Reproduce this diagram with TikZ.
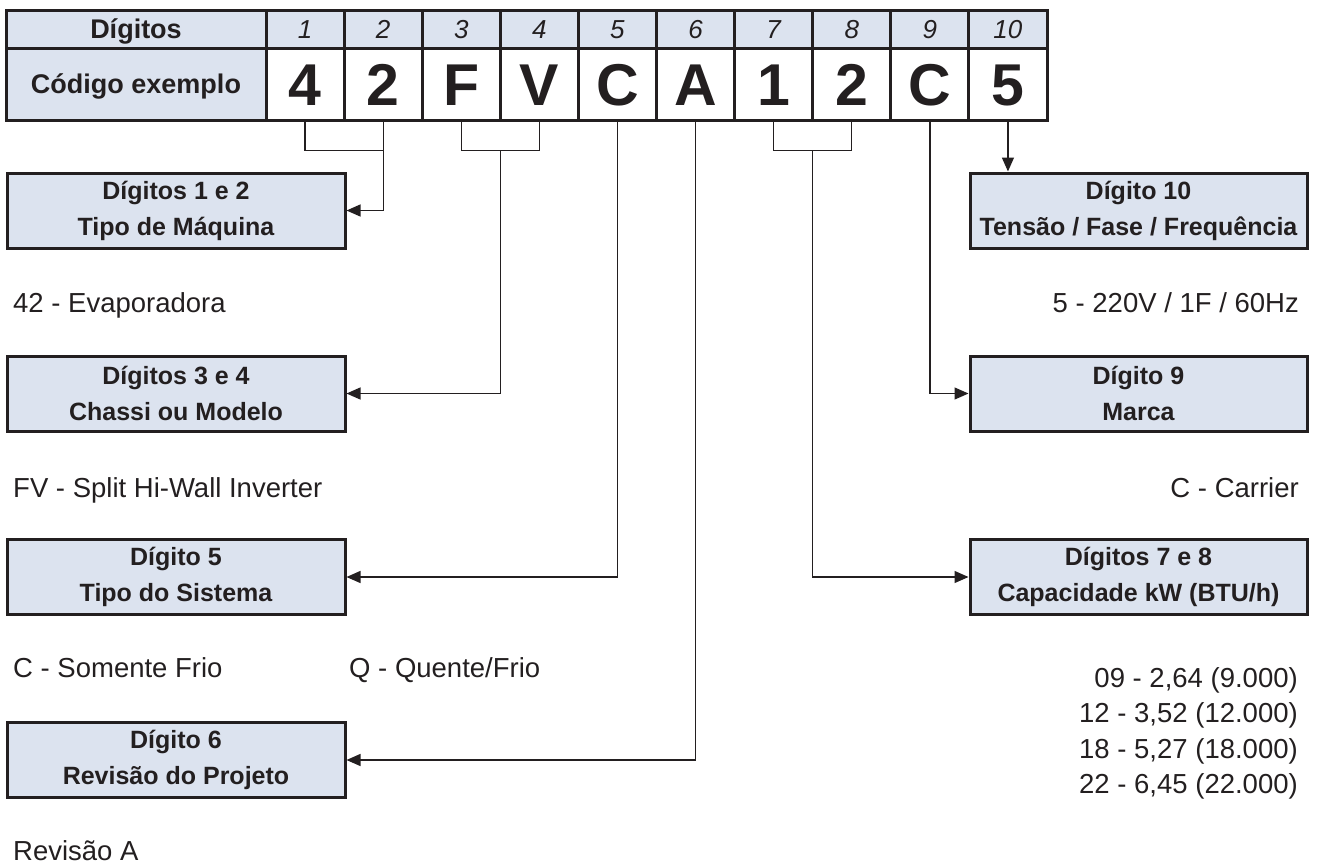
\documentclass[tikz,border=0pt]{standalone}
\usepackage{fontspec}
\setmainfont{Liberation Sans}
\usetikzlibrary{arrows.meta,calc}
\definecolor{ink}{HTML}{231F20}
\definecolor{fillb}{HTML}{DCE3EF}
\begin{document}
\begin{tikzpicture}[x=1pt,y=-1pt,
  cell/.style={draw=ink,line width=3pt,inner sep=0pt,text depth=0pt,text=ink},
  hdr/.style={cell,fill=fillb,minimum height=38pt},
  codecell/.style={cell,fill=white,minimum height=72pt},
  infobox/.style={draw=ink,line width=3pt,fill=fillb,minimum height=75pt,align=center,
    font=\fontsize{25}{36}\selectfont\bfseries,text=ink,inner sep=0pt},
  conn/.style={draw=ink,line width=1.3pt},
  arr/.style={conn,-{Triangle[length=14pt,width=12pt]}},
  lbl/.style={inner sep=0pt,font=\fontsize{27.5}{33}\selectfont,text=ink}]
\useasboundingbox (0,0) rectangle (1318,865);

% table
\node[hdr,minimum width=260pt,text height=19.3pt,font=\fontsize{27}{30}\selectfont\bfseries] (h0) at (136,29) {Dígitos};
\node[codecell,fill=fillb,minimum width=260pt,text height=19.3pt,font=\fontsize{27}{30}\selectfont\bfseries] (c0) at (136,84) {Código exemplo};
\foreach \i/\d in {1/4,2/2,3/F,4/V,5/C,6/A,7/1,8/2,9/C,10/5}{
  \node[hdr,minimum width=78.1pt,text height=18.6pt,font=\fontsize{26}{30}\selectfont\itshape] (h\i) at ({266+78.1*(\i-0.5)},29) {\i};
  \node[codecell,minimum width=78.1pt,text height=42pt,font=\fontsize{59}{60}\selectfont\bfseries] (c\i) at ({266+78.1*(\i-0.5)},84.5) {\d};
}

% left boxes
\node[infobox,minimum width=338pt] (b12) at (176,210.5) {Dígitos 1 e 2\\Tipo de Máquina};
\node[infobox,minimum width=338pt] (b34) at (176,393.5) {Dígitos 3 e 4\\Chassi ou Modelo};
\node[infobox,minimum width=338pt] (b5) at (176,577) {Dígito 5\\Tipo do Sistema};
\node[infobox,minimum width=338pt] (b6) at (176,760) {Dígito 6\\Revisão do Projeto};

% right boxes
\node[infobox,minimum width=337pt] (b10) at (1138.5,210.5) {Dígito 10\\Tensão / Fase / Frequência};
\node[infobox,minimum width=337pt] (b9) at (1138.5,393.5) {Dígito 9\\Marca};
\node[infobox,minimum width=337pt] (b78) at (1138.5,577) {Dígitos 7 e 8\\Capacidade kW (BTU/h)};

% connectors
\draw[conn] (c1.south) -- ++(0,28.5) -| (c2.south);
\draw[arr] (c2.south) |- (b12.east);

\draw[conn] (c3.south) -- ++(0,28.5) -| (c4.south);
\coordinate (m34) at ($(c3.south)!0.5!(c4.south)+(0,28.5)$);
\draw[arr] (m34) |- (b34.east);

\draw[arr] (c5.south) |- (b5.east);
\draw[arr] (c6.south) |- (b6.east);

\draw[conn] (c7.south) -- ++(0,28.5) -| (c8.south);
\coordinate (m78) at ($(c7.south)!0.5!(c8.south)+(0,28.5)$);
\draw[arr] (m78) |- (b78.west);

\draw[arr] (c9.south) |- (b9.west);
\draw[arr] (c10.south) -- (c10.south |- b10.north);

% texts
\node[lbl,anchor=base west] (t42) at (13,312) {42 - Evaporadora};
\node[lbl,anchor=base west] (tfv) at (13,497) {FV - Split Hi-Wall Inverter};
\node[lbl,anchor=base west] (tcf) at (13,677) {C - Somente Frio};
\node[lbl,anchor=base west] (tqf) at (349,677) {Q - Quente/Frio};
\node[lbl,anchor=base west] (trev) at (13,860.5) {Revisão A};

\node[lbl,anchor=base east] (tv) at (1299,312) {5 - 220V / 1F / 60Hz};
\node[lbl,anchor=base east] (tcar) at (1299,497) {C - Carrier};
\node[lbl,anchor=base east] (k09) at (1298,687) {09 - 2,64 (9.000)};
\node[lbl,anchor=base east] (k12) at (1298,722.5) {12 - 3,52 (12.000)};
\node[lbl,anchor=base east] (k18) at (1298,758) {18 - 5,27 (18.000)};
\node[lbl,anchor=base east] (k22) at (1298,793.5) {22 - 6,45 (22.000)};
\end{tikzpicture}
\end{document}
